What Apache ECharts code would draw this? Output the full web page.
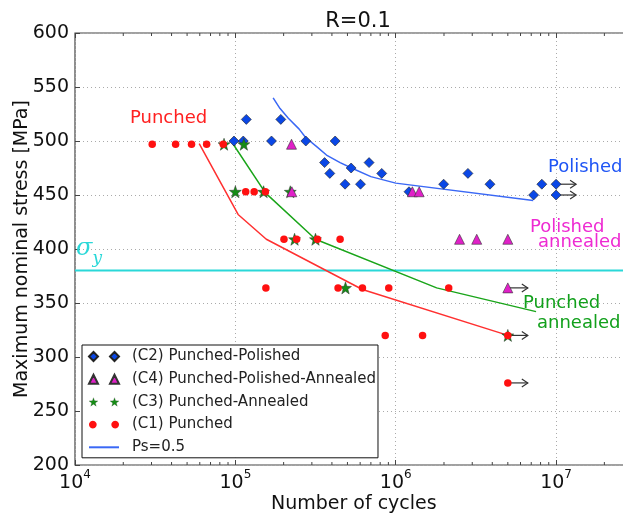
<!DOCTYPE html>
<html><head><meta charset="utf-8">
<script src="https://cdn.jsdelivr.net/npm/echarts@6/dist/echarts.min.js"></script>
<style>html,body{margin:0;padding:0;background:#fff}#c{width:623px;height:514px}</style>
</head><body><div id="c"></div>
<script>
// ---- data ----
const c2PunchedPolished = [[9.8e4,500],[1.12e5,500],[1.17e5,520],[1.68e5,500],[1.92e5,520],[2.75e5,500],[4.19e5,500],
  [3.6e5,480],[3.88e5,470],[5.27e5,475],[6.82e5,480],[8.18e5,470],[4.83e5,460],[6.03e5,460],[1.21e6,453],
  [1.99e6,460],[2.82e6,470],[3.87e6,460],[7.24e6,450],[8.15e6,460],[1e7,460],[1e7,450]];
const c4PunchedPolishedAnnealed = [[2.24e5,497],[2.25e5,453],[1.27e6,453],[1.4e6,453],[2.5e6,409],[3.2e6,409],[5e6,409],[5e6,364]];
const c3PunchedAnnealed = [[8.5e4,497],[1.13e5,497],[1.0e5,453],[1.5e5,453],[2.2e5,453],[2.34e5,409],[3.16e5,409],[4.86e5,364],[5e6,320]];
const c1Punched = [[3.03e4,497],[4.24e4,497],[5.33e4,497],[6.62e4,497],[8.4e4,497],[1.16e5,453],[1.31e5,453],[1.54e5,453],
  [2.01e5,409],[2.41e5,409],[3.25e5,409],[4.5e5,409],[1.55e5,364],[4.37e5,364],[6.2e5,364],[9.05e5,364],[2.14e6,364],
  [8.6e5,320],[1.47e6,320],[5e6,320],[5e6,276]];
const runouts = [[1e7,460],[1e7,450],[5e6,364],[5e6,320],[5e6,276]];
const curvePolished = [[1.72e5,540],[1.9e5,530],[2.14e5,521],[2.5e5,511],[2.75e5,503],[3.2e5,495],[3.7e5,487],[4.5e5,480],
  [5.3e5,475],[7e5,467],[1e6,461],[7.2e6,445]];
const curvePunched = [[5.95e4,497.5],[1.04e5,432],[1.56e5,409],[6.2e5,362.5],[4.9e6,320.5]];
const curvePunchedAnnealed = [[9.7e4,497],[1.54e5,452],[3.16e5,409],[1.8e6,364],[7.5e6,342]];
const yieldStress = 380;
const xMin = 1e4, xMax = 3e7, yMin = 200, yMax = 600, yStep = 50;
const legendNames = ['(C2) Punched-Polished','(C4) Punched-Polished-Annealed','(C3) Punched-Annealed','(C1) Punched','Ps=0.5'];

// ---- helpers ----
const FONT = 'DejaVu Sans';
function starPts(cx, cy, R, r){
  const p=[]; for(let i=0;i<10;i++){const a=(-90+36*i)*Math.PI/180; const rr=i%2?r:R; p.push([cx+rr*Math.cos(a), cy+rr*Math.sin(a)]);} return p;
}
function circlePts(cx,cy,R){const p=[];for(let i=0;i<24;i++){const a=i*Math.PI*2/24;p.push([cx+R*Math.cos(a),cy+R*Math.sin(a)]);}return p;}
function sub(pts,dx){return 'M'+pts.map(p=>(p[0]+dx).toFixed(2)+','+p[1].toFixed(2)).join(' L')+' Z';}
function twoPath(pts){return 'path://'+sub(pts,0)+' '+sub(pts,21);}
const diaPts=[[0,4.5],[4.5,0],[9,4.5],[4.5,9]];
const triPts=[[0,9],[4.5,0],[9,9]];
const starP=starPts(4.5,4.5,4.7,1.9);
const circP=circlePts(4.5,4.5,3.6);
const starSymbol='path://'+sub(starP,0);

const minorTicks=[];
for(let e=4;e<=7;e++){for(let m=2;m<=9;m++){const v=m*Math.pow(10,e); if(v<xMax) minorTicks.push([v,400]);}}

function fmtPow(v){
  const e=Math.round(Math.log10(v));
  if(Math.abs(v-Math.pow(10,e))/v>1e-6) return '';
  return '{b|10}{s|'+e+'}';
}

const chart=echarts.init(document.getElementById('c'),null,{renderer:'canvas'});
chart.setOption({
  animation:false,
  backgroundColor:'#fff',
  textStyle:{fontFamily:FONT},
  title:{text:'R=0.1',left:353,top:6,textAlign:'center',textStyle:{fontFamily:FONT,fontSize:21,fontWeight:'normal',color:'#111'}},
  grid:{left:75,top:33,width:557.6,height:432,outerBoundsMode:'none',containLabel:false,show:true,borderColor:'#444',borderWidth:1.2,backgroundColor:'transparent'},
  legend:{
    orient:'vertical',left:82,top:345,padding:[4,2,3,6],itemGap:7.7,itemWidth:30,itemHeight:9,
    backgroundColor:'#fff',borderColor:'#111',borderWidth:1,borderRadius:0,z:20,
    textStyle:{fontFamily:FONT,fontSize:15,color:'#222',padding:[0,0,0,8]},
    data:[
      {name:legendNames[0],icon:twoPath(diaPts)},
      {name:legendNames[1],icon:twoPath(triPts)},
      {name:legendNames[2],icon:twoPath(starP),itemStyle:{borderWidth:0.2}},
      {name:legendNames[3],icon:twoPath(circP)},
      {name:legendNames[4],itemStyle:{opacity:0}}
    ]
  },
  xAxis:[{
    type:'log',logBase:10,min:xMin,max:xMax,
    name:'Number of cycles',nameLocation:'middle',nameGap:30,nameMoveOverlap:false,
    nameTextStyle:{fontFamily:FONT,fontSize:19,color:'#111'},
    axisLine:{show:false},
    axisTick:{inside:true,length:5,lineStyle:{color:'#444'}},
    axisLabel:{margin:4,formatter:fmtPow,rich:{
      b:{fontFamily:FONT,fontSize:19,color:'#111',lineHeight:24,verticalAlign:'bottom'},
      s:{fontFamily:FONT,fontSize:12,color:'#111',lineHeight:13,verticalAlign:'top'}}},
    splitLine:{show:true,lineStyle:{color:'#aaa',type:[1,3],width:1}}
  },{
    type:'log',logBase:10,min:xMin,max:xMax,position:'top',
    axisLine:{show:false},axisLabel:{show:false},splitLine:{show:false},
    axisTick:{inside:true,length:5,lineStyle:{color:'#444'}}
  }],
  yAxis:[{
    type:'value',min:yMin,max:yMax,interval:yStep,
    name:'Maximum nominal stress [MPa]',nameLocation:'middle',nameGap:43,nameMoveOverlap:false,
    nameTextStyle:{fontFamily:FONT,fontSize:19,color:'#111'},
    axisLine:{show:false},
    axisTick:{inside:true,length:5,lineStyle:{color:'#444'}},
    axisLabel:{margin:6,fontFamily:FONT,fontSize:19,color:'#111'},
    splitLine:{show:true,lineStyle:{color:'#aaa',type:[1,3],width:1}}
  }],
  series:[
    {type:'custom',name:'minorTicks',silent:true,z:1,clip:false,data:minorTicks,encode:{x:0,y:1},
      renderItem:function(params,api){
        const v=api.value(0); const pb=api.coord([v,yMin]); const pt=api.coord([v,yMax]);
        return {type:'group',children:[
          {type:'line',shape:{x1:pb[0],y1:pb[1],x2:pb[0],y2:pb[1]-3},style:{stroke:'#444',lineWidth:1}},
          {type:'line',shape:{x1:pt[0],y1:pt[1],x2:pt[0],y2:pt[1]+3},style:{stroke:'#444',lineWidth:1}}]};
      }},
    {type:'line',name:'sigma_y',data:[[xMin,yieldStress],[xMax,yieldStress]],symbol:'none',silent:true,z:2,
      lineStyle:{color:'#2ad8d8',width:2}},
    {type:'line',name:'curvePunched',data:curvePunched,symbol:'none',z:2,lineStyle:{color:'#ff3030',width:1.5}},
    {type:'line',name:'curvePunchedAnnealed',data:curvePunchedAnnealed,symbol:'none',z:2,lineStyle:{color:'#1aa51a',width:1.5}},
    {type:'line',name:legendNames[4],data:curvePolished,symbol:'none',z:2,color:'#3a68f5',lineStyle:{color:'#3a68f5',width:1.5}},
    {type:'custom',name:'runouts',silent:true,z:2,data:runouts,encode:{x:0,y:1},
      renderItem:function(params,api){
        const p=api.coord([api.value(0),api.value(1)]); const x2=p[0]+20;
        return {type:'group',children:[
          {type:'line',shape:{x1:p[0],y1:p[1],x2:x2,y2:p[1]},style:{stroke:'#333',lineWidth:1.2}},
          {type:'polyline',shape:{points:[[x2-6,p[1]-4],[x2,p[1]],[x2-6,p[1]+4]]},style:{stroke:'#333',lineWidth:1.2,fill:null}}]};
      }},
    {type:'scatter',name:legendNames[0],data:c2PunchedPolished,symbol:'diamond',symbolSize:10,z:3,
      itemStyle:{color:'#0a47e6',borderColor:'#222',borderWidth:0.6,opacity:1}},
    {type:'scatter',name:legendNames[2],data:c3PunchedAnnealed,symbol:starSymbol,symbolSize:12,z:4,
      itemStyle:{color:'#168c16',borderColor:'#333',borderWidth:0.5,opacity:1}},
    {type:'scatter',name:legendNames[1],data:c4PunchedPolishedAnnealed,symbol:'triangle',symbolSize:10,z:5,
      itemStyle:{color:'#e020c8',borderColor:'#333',borderWidth:0.6,opacity:1}},
    {type:'scatter',name:legendNames[3],data:c1Punched,symbol:'circle',symbolSize:7.5,z:6,
      itemStyle:{color:'#ff1010',opacity:1}}
  ],
  graphic:[
    {type:'text',x:130,y:118,z:10,style:{text:'Punched',font:'18px "DejaVu Sans"',fill:'#ff2020',verticalAlign:'middle'}},
    {type:'text',x:548,y:167,z:10,style:{text:'Polished',font:'18px "DejaVu Sans"',fill:'#1f55f5',verticalAlign:'middle'}},
    {type:'text',x:530,y:227,z:10,style:{text:'Polished',font:'18px "DejaVu Sans"',fill:'#ee2ad2',verticalAlign:'middle'}},
    {type:'text',x:538,y:242,z:10,style:{text:'annealed',font:'18px "DejaVu Sans"',fill:'#ee2ad2',verticalAlign:'middle'}},
    {type:'text',x:523,y:303,z:10,style:{text:'Punched',font:'18px "DejaVu Sans"',fill:'#12a01c',verticalAlign:'middle'}},
    {type:'text',x:537,y:323,z:10,style:{text:'annealed',font:'18px "DejaVu Sans"',fill:'#12a01c',verticalAlign:'middle'}},
    {type:'text',x:76,y:252,z:10,style:{text:'{g|σ}{y|y}',verticalAlign:'middle',
      rich:{g:{fontFamily:'DejaVu Serif',fontStyle:'italic',fontSize:24,fill:'#2ad8d8',color:'#2ad8d8',lineHeight:30,verticalAlign:'top'},
            y:{fontFamily:'DejaVu Serif',fontStyle:'italic',fontSize:17,fill:'#2ad8d8',color:'#2ad8d8',lineHeight:30,verticalAlign:'bottom'}}}}
  ]
});
</script></body></html>
